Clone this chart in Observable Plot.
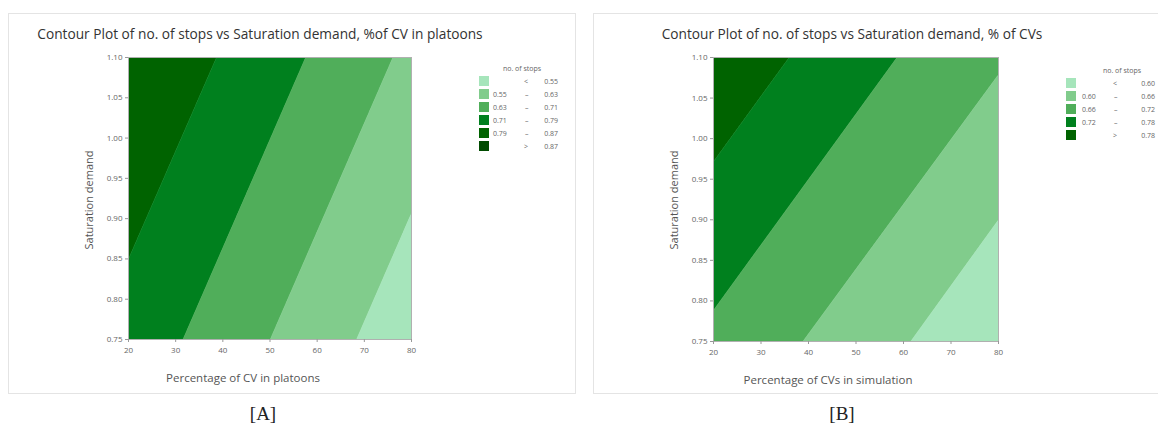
<!DOCTYPE html>
<html>
<head>
<meta charset="utf-8">
<script src="https://cdn.jsdelivr.net/npm/d3@7"></script>
<script src="https://cdn.jsdelivr.net/npm/@observablehq/plot@0.6"></script>
<style>
  html, body { margin: 0; padding: 0; background: #fff; }
  body { width: 1158px; height: 425px; position: relative; overflow: hidden; font-family: "Open Sans", "Noto Sans", sans-serif; }
  .abs { position: absolute; white-space: nowrap; }
  .frame { position: absolute; border: 1px solid #e4e4e4; box-sizing: border-box; }
  .title { font-size: 13.7px; color: #333; transform: translate(-50%, -50%); }
  .xlab { font-size: 11.5px; color: #555; transform: translate(-50%, -50%); }
  .ylab { font-size: 11px; color: #555; transform: translate(-50%, -50%) rotate(-90deg); }
  .cap { font-family: "Liberation Serif", "DejaVu Serif", serif; font-size: 19px; color: #222; transform: translate(-50%, -50%); }
  .legend { position: absolute; left: 0; top: 0; width: 1158px; height: 425px; font-size: 7px; color: #666; white-space: nowrap; pointer-events: none; }
  .legend .lt { position: absolute; transform: translate(-50%, -50%); }
  .legend .sw { position: absolute; width: 10px; height: 10px; }
  .legend .tx { position: absolute; transform: translateY(-50%); }
</style>
</head>
<body>
<script>
// ---------- data ----------
const xTicks = [20, 30, 40, 50, 60, 70, 80];
const yTicks = [0.75, 0.80, 0.85, 0.90, 0.95, 1.00, 1.05, 1.10];
const yEnds = [0.75, 1.10];
const bandColors = ["#006300", "#00801e", "#50ae5a", "#81cc8c", "#a6e5bb"];
// contour boundary x-positions at y = 0.75 (bottom) and y = 1.10 (top)
const aBoundBottom = [12.7, 31.7, 50.2, 68.5];
const aBoundTop = [38.8, 57.7, 76.2, 94.5];
const bBoundBottom = [-7.3, 15.4, 39.0, 61.7];
const bBoundTop = [36.1, 58.8, 82.8, 104.8];

const aTitle = "Contour Plot of no. of stops vs Saturation demand, %of CV in platoons";
const bTitle = "Contour Plot of no. of stops vs Saturation demand, % of CVs";
const aXLabel = "Percentage of CV in platoons";
const bXLabel = "Percentage of CVs in simulation";
const yLabel = "Saturation demand";
const legendTitle = "no. of stops";

const aLegendLo = ["", "0.55", "0.63", "0.71", "0.79", ""];
const aLegendOp = ["<", "–", "–", "–", "–", ">"];
const aLegendHi = ["0.55", "0.63", "0.71", "0.79", "0.87", "0.87"];
const aLegendColors = ["#a6e5bb", "#81cc8c", "#50ae5a", "#00801e", "#006300", "#004c00"];

const bLegendLo = ["", "0.60", "0.66", "0.72", ""];
const bLegendOp = ["<", "–", "–", "–", ">"];
const bLegendHi = ["0.60", "0.66", "0.72", "0.78", "0.78"];
const bLegendColors = ["#a6e5bb", "#81cc8c", "#50ae5a", "#00801e", "#006300"];

// ---------- helpers ----------
function add(tag, cls, css, text) {
  const el = document.createElement(tag);
  if (cls) el.className = cls;
  Object.assign(el.style, css);
  if (text != null) el.textContent = text;
  document.body.appendChild(el);
  return el;
}

function bandRows(bottom, top) {
  const rows = [];
  const n = bottom.length + 1;
  for (let i = 0; i < n; i++) {
    yEnds.forEach((y, k) => {
      const b = k === 0 ? bottom : top;
      rows.push({
        band: i,
        y,
        x1: i === 0 ? -100 : b[i - 1],
        x2: i === n - 1 ? 200 : b[i]
      });
    });
  }
  return rows;
}

function contourPlot(bottom, top, opts) {
  const rows = bandRows(bottom, top);
  const svg = Plot.plot({
    width: opts.width,
    height: opts.height,
    marginLeft: opts.marginLeft,
    marginRight: opts.marginRight,
    marginTop: opts.marginTop,
    marginBottom: opts.marginBottom,
    style: { fontFamily: "'Open Sans', 'Noto Sans', sans-serif", fontSize: "8px", color: "#666", background: "transparent" },
    x: { domain: [20, 80], ticks: xTicks, label: null },
    y: { domain: [0.75, 1.10], ticks: yTicks, label: null, tickFormat: d3.format(".2f") },
    color: { type: "ordinal", domain: d3.range(bandColors.length), range: bandColors },
    marks: [
      Plot.areaX(rows, { y: "y", x1: "x1", x2: "x2", z: "band", fill: "band", stroke: "band", strokeWidth: 0.5, clip: true, curve: "linear" }),
      Plot.frame({ stroke: "#b0b0b0", strokeWidth: 1 }),
      Plot.axisX({ ticks: xTicks, tickSize: 3, tickPadding: 5, stroke: "#999", fill: "#666" }),
      Plot.axisY({ ticks: yTicks, tickSize: 3, tickPadding: 3, tickFormat: d3.format(".2f"), stroke: "#999", fill: "#666" })
    ]
  });
  svg.style.position = "absolute";
  svg.style.left = opts.left + "px";
  svg.style.top = opts.top + "px";
  document.body.appendChild(svg);
}

function legend(y0, swX, textRight, loX, opX, lo, op, hi, colors, titleX) {
  const box = add("div", "legend", {});
  const put = (cls, text, css) => {
    const d = document.createElement("div");
    d.className = cls;
    if (text != null) d.textContent = text;
    Object.assign(d.style, css);
    box.appendChild(d);
  };
  put("lt", legendTitle, { left: titleX + "px", top: y0 + "px" });
  colors.forEach((c, i) => {
    const cy = y0 + 13 + i * 13;
    put("sw", null, { background: c, left: swX + "px", top: (cy - 5) + "px" });
    if (lo[i]) put("tx", lo[i], { left: loX + "px", top: cy + "px" });
    put("tx", op[i], { left: (op[i] === "–" ? opX : opX - 1) + "px", top: cy + "px" });
    put("tx", hi[i], { right: (1158 - textRight) + "px", top: cy + "px" });
  });
}

// ---------- frames ----------
add("div", "frame", { left: "8px", top: "13px", width: "568px", height: "381px" });
add("div", "frame", { left: "593px", top: "13px", width: "580px", height: "381px" });

// ---------- panel A ----------
add("div", "abs title", { left: "260px", top: "33px" }, aTitle);
contourPlot(aBoundBottom, aBoundTop, { left: 60, top: 40, width: 371, height: 349, marginLeft: 68, marginRight: 20, marginTop: 17, marginBottom: 50 });
add("div", "abs xlab", { left: "243px", top: "377px" }, aXLabel);
add("div", "abs ylab", { left: "88px", top: "200px" }, yLabel);
legend(68, 479, 558, 493, 525, aLegendLo, aLegendOp, aLegendHi, aLegendColors, 522);
add("div", "abs cap", { left: "263px", top: "414px" }, "[A]");

// ---------- panel B ----------
add("div", "abs title", { left: "852px", top: "33px" }, bTitle);
contourPlot(bBoundBottom, bBoundTop, { left: 645, top: 40, width: 373, height: 349, marginLeft: 68, marginRight: 20, marginTop: 17, marginBottom: 48 });
add("div", "abs xlab", { left: "828px", top: "379px" }, bXLabel);
add("div", "abs ylab", { left: "673px", top: "200px" }, yLabel);
legend(70, 1066, 1155, 1082, 1114, bLegendLo, bLegendOp, bLegendHi, bLegendColors, 1122);
add("div", "abs cap", { left: "842px", top: "414px" }, "[B]");
</script>
</body>
</html>
